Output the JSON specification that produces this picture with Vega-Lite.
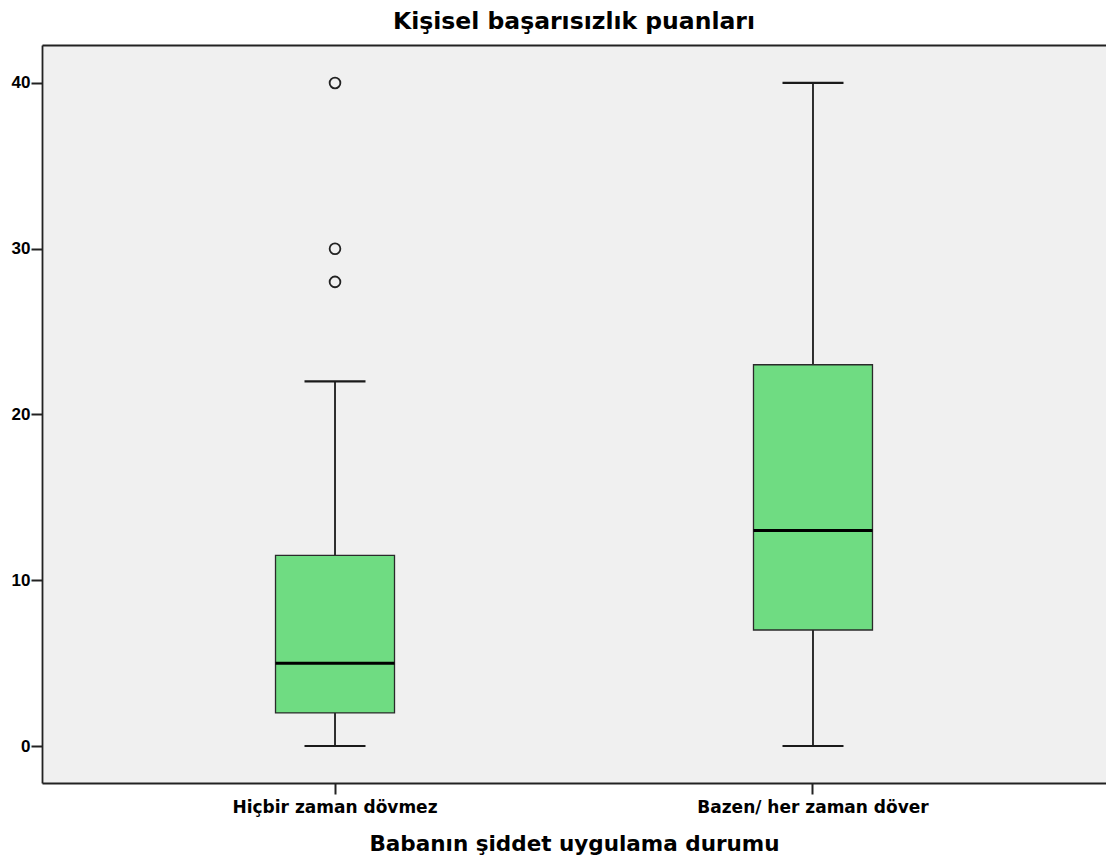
{
  "$schema": "https://vega.github.io/schema/vega-lite/v6.json",
  "autosize": "none",
  "width": 1064,
  "height": 738,
  "padding": {"left": 42, "top": 45, "right": 0, "bottom": 83},
  "background": "white",
  "title": {
    "text": "Kişisel başarısızlık puanları",
    "font": "DejaVu Sans",
    "fontSize": 23.5,
    "fontWeight": "bold",
    "color": "#000000",
    "anchor": "middle",
    "offset": 12
  },
  "config": {
    "view": {"fill": "#F0F0F0", "stroke": null},
    "axis": {"grid": false, "domainColor": "#222222", "tickColor": "#222222", "labelColor": "#000000", "titleColor": "#000000"}
  },
  "resolve": {"axis": {"x": "independent"}},
  "datasets": {
    "stats": [
      {"grup": "Hiçbir zaman dövmez", "min": 0, "q1": 2, "median": 5, "q3": 11.5, "max": 22},
      {"grup": "Bazen/ her zaman döver", "min": 0, "q1": 7, "median": 13, "q3": 23, "max": 40}
    ],
    "outliers": [
      {"grup": "Hiçbir zaman dövmez", "puan": 40},
      {"grup": "Hiçbir zaman dövmez", "puan": 30},
      {"grup": "Hiçbir zaman dövmez", "puan": 28}
    ]
  },
  "layer": [
    {
      "data": {"name": "stats"},
      "mark": {"type": "rule", "color": "#1a1a1a", "strokeWidth": 1.8},
      "encoding": {
        "x": {
          "field": "grup",
          "type": "nominal",
          "sort": ["Hiçbir zaman dövmez", "Bazen/ her zaman döver"],
          "scale": {"paddingInner": 0, "paddingOuter": 0.113},
          "axis": {
            "title": "Babanın şiddet uygulama durumu",
            "titleFont": "DejaVu Sans",
            "titleFontSize": 21.5,
            "titleFontWeight": "bold",
            "titlePadding": 18,
            "labelFont": "DejaVu Sans",
            "labelFontSize": 17,
            "labelFontWeight": "bold",
            "labelAngle": 0,
            "labelLimit": 0,
            "labelPadding": 5,
            "tickSize": 11,
            "tickWidth": 2,
            "domainWidth": 2
          }
        },
        "y": {
          "field": "min",
          "type": "quantitative",
          "scale": {"domain": [-2.23, 42.29], "nice": false, "zero": false},
          "axis": {
            "title": null,
            "values": [0, 10, 20, 30, 40],
            "labelFont": "Liberation Sans",
            "labelFontSize": 17,
            "labelFontWeight": "bold",
            "labelPadding": 1,
            "tickSize": 11,
            "tickWidth": 2,
            "domainWidth": 1.8
          }
        },
        "y2": {"field": "max"}
      }
    },
    {
      "data": {"name": "stats"},
      "mark": {"type": "bar", "width": 119, "fill": "#6FDC82", "stroke": "#2a2a2a", "strokeWidth": 1.3},
      "encoding": {
        "x": {"field": "grup", "type": "nominal", "sort": ["Hiçbir zaman dövmez", "Bazen/ her zaman döver"], "axis": null},
        "y": {"field": "q1", "type": "quantitative"},
        "y2": {"field": "q3"}
      }
    },
    {
      "data": {"name": "stats"},
      "mark": {"type": "tick", "size": 119, "thickness": 3, "color": "#000000", "opacity": 1},
      "encoding": {
        "x": {"field": "grup", "type": "nominal", "sort": ["Hiçbir zaman dövmez", "Bazen/ her zaman döver"], "axis": null},
        "y": {"field": "median", "type": "quantitative"}
      }
    },
    {
      "data": {"name": "stats"},
      "mark": {"type": "tick", "size": 61, "thickness": 2.2, "color": "#1a1a1a", "opacity": 1},
      "encoding": {
        "x": {"field": "grup", "type": "nominal", "sort": ["Hiçbir zaman dövmez", "Bazen/ her zaman döver"], "axis": null},
        "y": {"field": "max", "type": "quantitative"}
      }
    },
    {
      "data": {"name": "stats"},
      "mark": {"type": "tick", "size": 61, "thickness": 2, "color": "#1a1a1a", "opacity": 1},
      "encoding": {
        "x": {"field": "grup", "type": "nominal", "sort": ["Hiçbir zaman dövmez", "Bazen/ her zaman döver"], "axis": null},
        "y": {"field": "min", "type": "quantitative"}
      }
    },
    {
      "data": {"name": "outliers"},
      "mark": {"type": "point", "shape": "circle", "filled": false, "size": 115, "stroke": "#222222", "strokeWidth": 1.8, "opacity": 1},
      "encoding": {
        "x": {
          "field": "grup",
          "type": "nominal",
          "sort": ["Hiçbir zaman dövmez", "Bazen/ her zaman döver"],
          "axis": {"orient": "top", "labels": false, "ticks": false, "title": null, "domainWidth": 2}
        },
        "y": {"field": "puan", "type": "quantitative"}
      }
    }
  ]
}
